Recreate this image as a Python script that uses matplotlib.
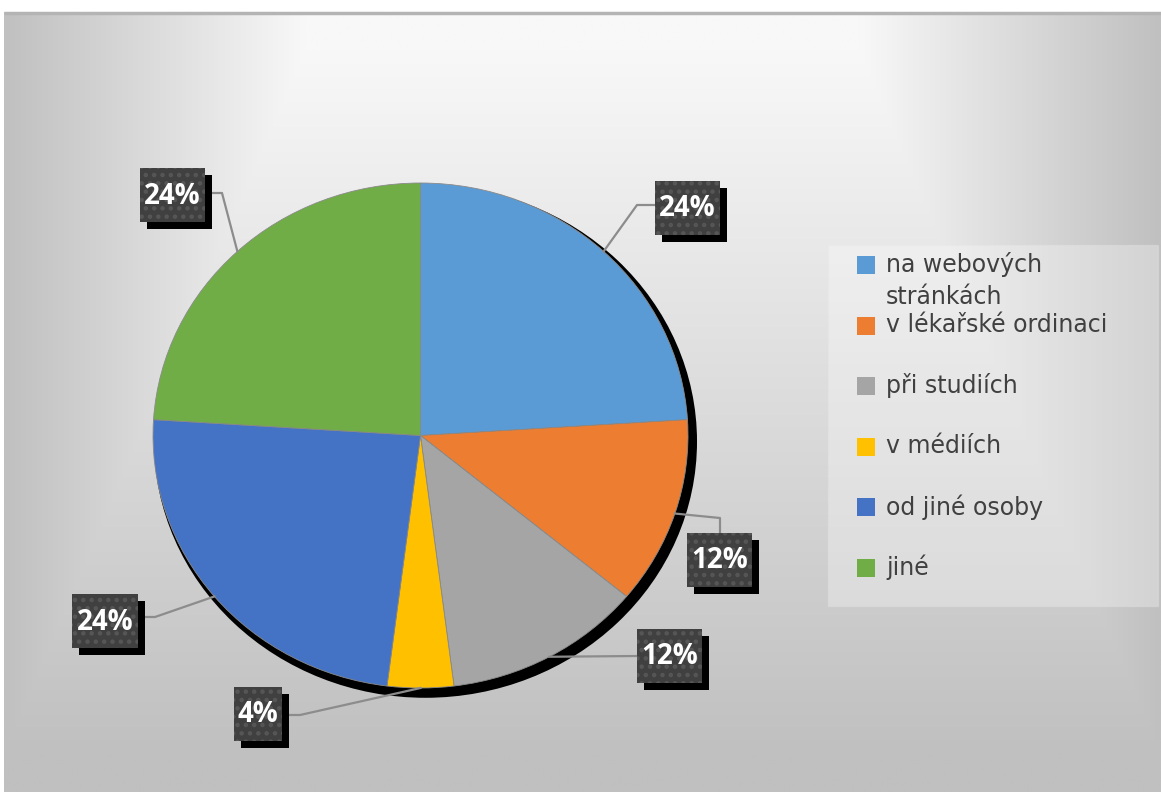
import numpy as np
import matplotlib
matplotlib.use("Agg")
import matplotlib.pyplot as plt
from matplotlib.patches import Rectangle, Ellipse
from matplotlib import transforms

categories = ["na webových\nstránkách", "v lékařské ordinaci", "při studiích",
              "v médiích", "od jiné osoby", "jiné"]
values = [24, 12, 12, 4, 24, 24]
colors = ["#5B9BD5", "#ED7D31", "#A5A5A5", "#FFC000", "#4472C4", "#70AD47"]

plt.rcParams["hatch.linewidth"] = 2.0

W, H = 1161, 792
fig = plt.figure(figsize=(W / 100, H / 100), dpi=100)
fig.patch.set_facecolor("white")

# background panel with a rectangular path gradient, brightest at top centre
bg = fig.add_axes([4 / W, 0, (W - 4) / W, 780 / H])
bg.set_axis_off()
gx = np.linspace(-1, 1, 800)
gy = np.linspace(0, 1, 500)
U, V = np.meshgrid(gx, gy)
th = np.clip((np.abs(U) - 0.48) / 0.52, 0, 1)
tv = np.clip((V - 0.05) / 0.9, 0, 1)
t = np.maximum(th, tv)
shade = (248 - 56 * t) / 255.0
img = np.dstack([shade, shade, shade])
bg.imshow(img, aspect="auto", extent=(0, 1, 1, 0), interpolation="bilinear")
bg.set_xlim(0, 1)
bg.set_ylim(1, 0)

# pie axes (slightly wider than tall)
px0, px1, py0, py1 = 153, 688, 183, 688
ax = fig.add_axes([px0 / W, (H - py1) / H, (px1 - px0) / W, (py1 - py0) / H])
ax.set_zorder(2)
ax.patch.set_alpha(0)
wedges, _ = ax.pie(values, colors=colors, startangle=90, counterclock=False,
                   radius=1, center=(0, 0),
                   wedgeprops=dict(linewidth=0.6, edgecolor="#8a8a8a"))
shadow_tr = ax.transData + transforms.ScaledTranslation(5 / 100, -6 / 100, fig.dpi_scale_trans)
shadow = Ellipse((0, 0), 2.03, 2.03, facecolor="black", edgecolor="none",
                 transform=shadow_tr, zorder=0)
shadow.set_clip_on(False)
ax.add_patch(shadow)
for w in wedges:
    w.set_zorder(1)
    w.set_clip_on(False)
ax.set_aspect("auto")
ax.set_xlim(-1, 1)
ax.set_ylim(-1, 1)
ax.set_axis_off()

# overlay in pixel coordinates
ov = fig.add_axes([0, 0, 1, 1])
ov.set_zorder(3)
ov.patch.set_alpha(0)
ov.set_xlim(0, W)
ov.set_ylim(H, 0)
ov.set_axis_off()

# top border line of the panel
ov.plot([4, W], [13, 13], color="#b4b4b4", lw=2.5, solid_capstyle="butt")

fig.canvas.draw()


def edge_point(i):
    total = sum(values)
    start = 90 - 360 * sum(values[:i]) / total
    mid = np.deg2rad(start - 180 * values[i] / total)
    xd, yd = np.cos(mid), np.sin(mid)
    xp, yp = ax.transData.transform((xd, yd))
    return xp, H - yp


# label boxes: (left, top, width, height), elbow point, box attach point
boxes = [
    ((655, 181, 65, 54), (637, 205), (655, 205)),
    ((687, 533, 65, 54), (720, 518), (720, 533)),
    ((637, 629, 65, 54), None, (637, 656)),
    ((234, 687, 48, 54), (300, 715), (282, 715)),
    ((72, 594, 66, 54), (155, 617), (138, 617)),
    ((140, 168, 65, 54), (222, 193), (205, 193)),
]

for i, ((bx, by, bw, bh), elbow, attach) in enumerate(boxes):
    ex, ey = edge_point(i)
    xs = [ex] + ([elbow[0]] if elbow else []) + [attach[0]]
    ys = [ey] + ([elbow[1]] if elbow else []) + [attach[1]]
    ov.plot(xs, ys, color="#8c8c8c", lw=1.6, zorder=1)
    ov.add_patch(Rectangle((bx + 7, by + 7), bw, bh, facecolor="black",
                           edgecolor="none", zorder=2))
    ov.add_patch(Rectangle((bx, by), bw, bh, facecolor="#404040",
                           edgecolor="#565656", lw=0, hatch="..", zorder=3))
    pct = round(100 * values[i] / sum(values))
    ov.text(bx + bw / 2, by + bh / 2 + 1, f"{pct}%", color="white",
            fontsize=20, fontweight="bold", family="Open Sans",
            ha="center", va="center", zorder=4)

# legend
ov.add_patch(Rectangle((828, 245), 330, 361, facecolor="white", alpha=0.3,
                       edgecolor="#e8e8e8", lw=1, zorder=1))
row_y = [265, 326, 386, 447, 507, 568]
for c, lab, yy in zip(colors, categories, row_y):
    ov.add_patch(Rectangle((857, yy - 9), 18, 18, facecolor=c, edgecolor="none", zorder=2))
    ov.text(886, yy - 13, lab, color="#404040", fontsize=17, family="DejaVu Sans",
            ha="left", va="top", linespacing=1.4, zorder=2)

fig.savefig("out.png", dpi=100)
